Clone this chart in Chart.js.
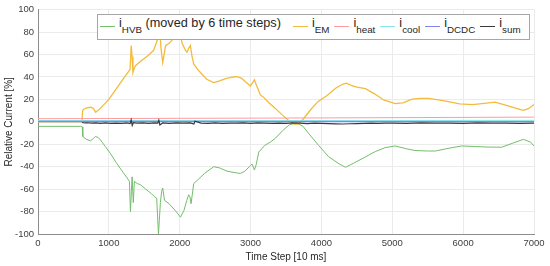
<!DOCTYPE html>
<html>
<head>
<meta charset="utf-8">
<script src="https://cdn.jsdelivr.net/npm/chart.js@4.4.1/dist/chart.umd.min.js"></script>
<style>
  html, body { margin: 0; padding: 0; background: #fff; }
  #wrap { position: relative; width: 550px; height: 266px; }
  #legend {
    position: absolute; left: 97px; top: 14px; width: 433px; height: 26px;
    box-sizing: border-box; border: 1px solid #a6a6a6; background: #fff;
    display: flex; align-items: flex-start; padding-left: 2px;
    font-family: "Liberation Sans", Arial, sans-serif; font-size: 12.7px; color: #262626;
  }
  .item { display: flex; align-items: flex-start; margin-right: 5px; white-space: pre; }
  .item:first-child { margin-right: 12px; }
  .swatch { width: 15px; height: 1px; margin-top: 11px; margin-right: 4px; }
  .lbl { line-height: 1; margin-top: 2px; }
  .sub { font-size: 9.8px; vertical-align: -6px; }
</style>
</head>
<body>
<div id="wrap">
  <canvas id="chart" width="550" height="266"></canvas>
  <div id="legend"></div>
</div>
<script>
/* ── DATA ── */
const xTicks = [0, 1000, 2000, 3000, 4000, 5000, 6000, 7000];
const yTicks = [-100, -80, -60, -40, -20, 0, 20, 40, 60, 80, 100];

const seriesNames  = ["HVB", "EM", "heat", "cool", "DCDC", "sum"];
const seriesSuffix = [" (moved by 6 time steps)", "", "", "", "", ""];
const seriesColors = ["#74bd6c", "#f3bb3c", "#ff9c9c", "#86e8ee", "#7f86f0", "#3a3a3a"];

const hvbSteps = [0, 600, 625, 632, 680, 740, 780, 810, 850, 880,
                  950, 1020, 1100, 1200, 1258, 1290, 1305, 1318, 1328, 1345,
                  1360, 1400, 1445, 1520, 1600, 1650, 1675, 1700, 1712, 1727,
                  1745, 1760, 1785, 1850, 1950, 2010, 2060, 2100, 2127, 2145,
                  2160, 2198, 2250, 2350, 2480, 2560, 2668, 2800, 2856, 2920,
                  2997, 3021, 3054, 3080, 3115, 3200, 3280, 3350, 3450, 3550,
                  3655, 3740, 3815, 3960, 4100, 4250, 4340, 4450, 4600, 4760,
                  4900, 5040, 5200, 5320, 5500, 5610, 5800, 5980, 6170, 6350,
                  6545, 6700, 6850, 6950, 7000];
const hvbValues = [-4, -4, -4.5, -13, -15.5, -17, -15, -13, -14, -16,
                   -22, -28, -36, -45, -50, -53, -80, -62, -49, -72,
                   -53, -55, -56, -60, -64, -67, -68, -100, -88, -72,
                   -62, -59, -70, -73, -80, -85, -79, -70, -65, -67,
                   -73, -55, -52, -46, -40, -41, -44, -45.5, -46, -44,
                   -39, -37.5, -43, -38, -27, -21, -18, -14.7, -8, -2.5,
                   -1, -4, -10, -21, -31, -37.5, -40.5, -37, -32, -26.5,
                   -23, -21.5, -24, -25.6, -26, -26, -23.5, -21.5, -22, -22.5,
                   -22.6, -19, -15.6, -18, -21.5];

const emSteps = [0, 620, 630, 650, 690, 740, 780, 800, 815, 840,
                 880, 940, 1000, 1100, 1200, 1280, 1300, 1315, 1328, 1340,
                 1360, 1375, 1450, 1550, 1630, 1680, 1700, 1715, 1735, 1760,
                 1780, 1800, 1850, 1910, 1960, 2000, 2034, 2080, 2104, 2130,
                 2150, 2175, 2198, 2250, 2292, 2380, 2480, 2560, 2650, 2750,
                 2810, 2870, 2940, 2997, 3030, 3054, 3080, 3138, 3183, 3250,
                 3350, 3450, 3550, 3620, 3680, 3750, 3850, 3950, 4080, 4200,
                 4300, 4350, 4420, 4500, 4620, 4750, 4880, 5040, 5150, 5280,
                 5400, 5510, 5650, 5790, 5950, 6130, 6300, 6450, 6600, 6750,
                 6850, 6930, 7000];
const emValues = [0, 0, 10, 11.5, 12.5, 13, 12, 10, 8.5, 10,
                  12, 16, 20, 29, 38, 45, 47, 68, 58, 44,
                  48, 50, 54, 59, 63.6, 72, 80, 86, 66, 53,
                  60, 68, 70, 74, 79, 82, 70, 64, 62, 66,
                  68, 58, 51.7, 47, 44, 38, 35, 36.5, 38.5, 40,
                  40.4, 39, 35, 32, 35, 37.5, 33, 24, 22, 17.5,
                  12, 6, 0.5, -2, -2, 3, 11, 18, 23.5, 30,
                  33.5, 34.5, 32.5, 31, 29.6, 25, 19.5, 16.2, 17, 20.3,
                  21, 21, 19.5, 18, 16, 15.3, 16.5, 17.6, 15, 12,
                  10.2, 12, 15.5];

const heatSteps  = [0, 3500, 7000];
const heatValues = [2.8, 3.4, 4.2];
const coolSteps  = [0, 7000];
const coolValues = [1.2, 1.3];
const dcdcSteps  = [0, 7000];
const dcdcValues = [0.3, 0.2];

const sumSteps = [620, 660, 700, 760, 820, 880, 950, 1020, 1100, 1180,
                  1250, 1300, 1315, 1330, 1345, 1400, 1480, 1560, 1640, 1690,
                  1705, 1720, 1760, 1850, 1950, 2050, 2150, 2200, 2215, 2300,
                  2400, 2500, 2600, 2700, 2800, 2900, 3000, 3100, 3200, 3300,
                  3400, 3500, 3600, 3700, 3800, 3900, 4000, 4100, 4200, 4300,
                  4400, 4500, 4600, 4700, 4800, 4900, 5000, 5200, 5400, 5600,
                  5800, 6000, 6200, 6400, 6600, 6800, 7000];
const sumValues = [-0.6, -1.0, -0.8, -1.2, -0.9, -1.3, -1.0, -1.4, -1.1, -1.3,
                   -1.0, -1.5, 1.8, -3.2, -0.8, -1.2, -0.9, -1.4, -1.0, -1.2,
                   1.5, -2.8, -1.0, -1.3, -0.9, -1.2, -1.0, -2.0, 0.6, -1.1,
                   -1.3, -1.0, -1.4, -1.1, -1.2, -0.9, -1.3, -1.0, -1.2, -1.4,
                   -1.1, -1.3, -1.0, -1.2, -1.5, -1.1, -1.4, -1.6, -1.8, -1.9,
                   -1.7, -1.5, -1.3, -1.2, -1.4, -1.1, -1.2, -1.3, -1.0, -1.2,
                   -1.1, -1.3, -1.0, -1.2, -1.1, -1.3, -1.2];

/* ── BUILD ── */
const pts = (xs, ys) => xs.map((x, i) => ({ x: x, y: ys[i] }));
const seriesData = [
    pts(hvbSteps, hvbValues), pts(emSteps, emValues), pts(heatSteps, heatValues),
    pts(coolSteps, coolValues), pts(dcdcSteps, dcdcValues), pts(sumSteps, sumValues)
];
const lineWidths = [1, 1.3, 1, 1, 1.3, 1.2];

const datasets = seriesNames.map((name, i) => ({
    label: "i" + name + seriesSuffix[i],
    data: seriesData[i],
    borderColor: seriesColors[i],
    borderWidth: lineWidths[i],
    pointRadius: 0,
    tension: 0,
    fill: false,
    order: seriesNames.length - i   // later series on top, like the original
}));

const tickFont  = { family: "'Liberation Sans', Arial, sans-serif", size: 9.5 };
const titleFont = { family: "'Liberation Sans', Arial, sans-serif", size: 10 };

new Chart(document.getElementById("chart"), {
    type: "line",
    data: { datasets: datasets },
    options: {
        responsive: false,
        animation: false,
        layout: { padding: { left: 0, right: 16, top: 9, bottom: 0 } },
        plugins: { legend: { display: false }, tooltip: { enabled: false } },
        scales: {
            x: {
                type: "linear", min: 0, max: 7000,
                afterBuildTicks: s => { s.ticks = xTicks.map(v => ({ value: v })); },
                afterFit: s => { s.height = 32; },
                ticks: { color: "#404040", font: tickFont, padding: 4, maxRotation: 0, callback: v => String(v) },
                grid: { color: "#ebebeb", drawTicks: false },
                border: { color: "#8c8c8c" },
                title: { display: true, text: "Time Step [10 ms]", color: "#262626", font: titleFont, padding: { top: 0, bottom: 3 } }
            },
            y: {
                min: -100, max: 100,
                afterBuildTicks: s => { s.ticks = yTicks.map(v => ({ value: v })); },
                afterFit: s => { s.width = 38; },
                ticks: { color: "#404040", font: tickFont, padding: 4, callback: v => String(v) },
                grid: { color: "#ebebeb", drawTicks: false },
                border: { color: "#8c8c8c" },
                title: { display: true, text: "Relative Current [%]", color: "#262626", font: titleFont, padding: { top: 3, bottom: 0 } }
            }
        }
    }
});

/* ── LEGEND (HTML, for subscripts) ── */
const legend = document.getElementById("legend");
seriesNames.forEach((name, i) => {
    const item = document.createElement("div");
    item.className = "item";
    item.innerHTML = `<span class="swatch" style="background:${seriesColors[i]}"></span>` +
        `<span class="lbl">i<span class="sub">${name}</span>${seriesSuffix[i]}</span>`;
    legend.appendChild(item);
});
</script>
</body>
</html>
